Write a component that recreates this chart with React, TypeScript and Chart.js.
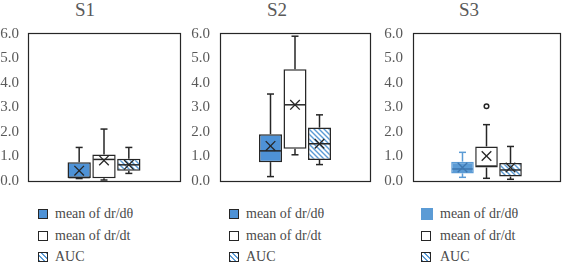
import React, { useEffect, useRef } from 'react';
import { Chart, registerables } from 'chart.js';

Chart.register(...registerables);

const PANEL_TITLES = ['S1', 'S2', 'S3'];
const SERIES_NAMES = ['mean of dr/dθ', 'mean of dr/dt', 'AUC'];
const Y_TICKS = [0, 1, 2, 3, 4, 5, 6];

// five-number summaries per series: [min, q1, median, q3, max]
const S1_DTHETA = [0.1, 0.12, 0.14, 0.77, 1.37];
const S1_DT = [0.04, 0.11, 0.88, 1.08, 2.12];
const S1_AUC = [0.31, 0.42, 0.66, 0.91, 1.37];
const S1_MEANS = [0.42, 0.84, 0.66];
const S1_OUTLIERS: number[][] = [[], [], []];

const S2_DTHETA = [0.18, 0.77, 1.23, 1.91, 3.55];
const S2_DT = [1.07, 1.32, 3.11, 4.56, 5.91];
const S2_AUC = [0.67, 0.86, 1.52, 2.18, 2.7];
const S2_MEANS = [1.43, 3.11, 1.52];
const S2_OUTLIERS: number[][] = [[], [], []];

const S3_DTHETA = [0.15, 0.31, 0.49, 0.79, 1.17];
const S3_DT = [0.11, 0.55, 0.61, 1.41, 2.3];
const S3_AUC = [0.07, 0.18, 0.45, 0.73, 1.41];
const S3_MEANS = [0.55, 1.02, 0.55];
const S3_OUTLIERS: number[][] = [[], [3.05], []];

const PANEL_BOXES = [
  [S1_DTHETA, S1_DT, S1_AUC],
  [S2_DTHETA, S2_DT, S2_AUC],
  [S3_DTHETA, S3_DT, S3_AUC],
];
const PANEL_MEANS = [S1_MEANS, S2_MEANS, S3_MEANS];
const PANEL_OUTLIERS = [S1_OUTLIERS, S2_OUTLIERS, S3_OUTLIERS];

const DARK = '#262626';
const BLUE = '#4e92d6';
const LIGHT_BLUE = '#5b9bd5';
const HATCH_BLUE = '#5b9bd5';
const TEXT = '#595959';
const FONT = "'Liberation Serif', 'Times New Roman', serif";

const CANVAS_H = 200;

const LAYOUT = [
  { left: 0, width: 190, axisW: 28, padRight: 10, tickPad: 9, titleX: 85, markerX: 38, textX: 55 },
  { left: 190, width: 190, axisW: 30, padRight: 10, tickPad: 10, titleX: 277, markerX: 229, textX: 246 },
  { left: 380, width: 187, axisW: 33, padRight: 7, tickPad: 10, titleX: 469, markerX: 421, textX: 440 },
];

function makeHatch(): CanvasPattern | string {
  const s = 5;
  const c = document.createElement('canvas');
  c.width = s;
  c.height = s;
  const g = c.getContext('2d');
  if (!g) return '#fff';
  g.fillStyle = '#fff';
  g.fillRect(0, 0, s, s);
  g.strokeStyle = HATCH_BLUE;
  g.lineWidth = 1.4;
  g.beginPath();
  g.moveTo(0, 0);
  g.lineTo(s, s);
  g.moveTo(-1, s - 1);
  g.lineTo(1, s + 1);
  g.moveTo(s - 1, -1);
  g.lineTo(s + 1, 1);
  g.stroke();
  return g.createPattern(c, 'repeat') || '#fff';
}

function Panel({ idx }: { idx: number }) {
  const ref = useRef<HTMLCanvasElement | null>(null);
  const L = LAYOUT[idx];

  useEffect(() => {
    const canvas = ref.current;
    if (!canvas) return;
    const boxes = PANEL_BOXES[idx];
    const means = PANEL_MEANS[idx];
    const outliers = PANEL_OUTLIERS[idx];
    const light = idx === 2;
    const hatch = makeHatch();
    const fills = [light ? LIGHT_BLUE : BLUE, '#ffffff', hatch];
    const borders = [light ? LIGHT_BLUE : DARK, DARK, DARK];
    const whiskerColors = [light ? LIGHT_BLUE : DARK, DARK, DARK];
    const innerColors = [light ? '#3f77b0' : DARK, DARK, DARK];
    // bottom padding: keep the plot bottom at y = 181 (label half-height + tick padding)
    const padBottom = CANVAS_H - 181;

    const boxPlugin = {
      id: 'boxWhisker' + idx,
      afterDatasetsDraw(chart: any) {
        const ctx: CanvasRenderingContext2D = chart.ctx;
        const ys = chart.scales.y;
        const py = (v: number) => ys.getPixelForValue(v);
        const line = (x1: number, y1: number, x2: number, y2: number) => {
          ctx.beginPath();
          ctx.moveTo(x1, y1);
          ctx.lineTo(x2, y2);
          ctx.stroke();
        };
        boxes.forEach((b, i) => {
          const bar = chart.getDatasetMeta(i).data[0];
          const x = bar.x;
          const w = bar.width;
          ctx.save();
          ctx.lineWidth = 1.5;
          ctx.strokeStyle = whiskerColors[i];
          const cap = 3.5;
          line(x, py(b[3]), x, py(b[4]));
          line(x - cap, py(b[4]), x + cap, py(b[4]));
          line(x, py(b[1]), x, py(b[0]));
          line(x - cap, py(b[0]), x + cap, py(b[0]));
          ctx.strokeStyle = innerColors[i];
          line(x - w / 2 + 1, py(b[2]), x + w / 2 - 1, py(b[2]));
          const m = py(means[i]);
          const r = 4.8;
          ctx.lineWidth = 1.3;
          line(x - r, m - r, x + r, m + r);
          line(x - r, m + r, x + r, m - r);
          ctx.lineWidth = 1.5;
          outliers[i].forEach((o) => {
            ctx.beginPath();
            ctx.arc(x, py(o), 2.3, 0, Math.PI * 2);
            ctx.fillStyle = '#fff';
            ctx.fill();
            ctx.strokeStyle = DARK;
            ctx.stroke();
          });
          ctx.restore();
        });
        const a = chart.chartArea;
        ctx.save();
        ctx.strokeStyle = DARK;
        ctx.lineWidth = 1.2;
        ctx.strokeRect(
          Math.round(a.left) + 0.5,
          Math.round(a.top) - 0.5,
          Math.round(a.right - a.left),
          Math.round(a.bottom - a.top) + 1
        );
        ctx.restore();
      },
    };

    const chart = new Chart(canvas, {
      type: 'bar',
      data: {
        labels: [PANEL_TITLES[idx]],
        datasets: boxes.map((b, i) => ({
          label: SERIES_NAMES[i],
          data: [[b[1], b[3]]] as any,
          backgroundColor: fills[i] as any,
          borderColor: borders[i],
          borderWidth: 1.5,
          borderSkipped: false,
          categoryPercentage: 0.49,
          barPercentage: 0.94,
        })),
      },
      options: {
        responsive: false,
        animation: false,
        layout: { padding: { left: 0, right: L.padRight, top: 34, bottom: padBottom } },
        plugins: {
          legend: { display: false },
          title: { display: false },
          tooltip: { enabled: false },
        },
        scales: {
          x: { display: false },
          y: {
            min: 0,
            max: 6,
            afterBuildTicks: (s: any) => {
              s.ticks = Y_TICKS.map((v) => ({ value: v }));
            },
            afterFit: (s: any) => {
              s.width = L.axisW;
            },
            grid: { display: false, drawTicks: false },
            border: { display: false },
            ticks: {
              padding: L.tickPad,
              color: TEXT,
              font: { family: FONT, size: 15 },
              callback: (v: any) => Number(v).toFixed(1),
            },
          },
        },
      },
      plugins: [boxPlugin],
    });
    return () => chart.destroy();
  }, [idx]);

  const light = idx === 2;
  const rowCenters = [214, 236, 257];
  const markerStyles: React.CSSProperties[] = [
    light
      ? { width: 12, height: 12, background: LIGHT_BLUE }
      : { width: 10, height: 10, background: BLUE, border: `1px solid ${DARK}` },
    { width: 10, height: 10, background: '#fff', border: `1px solid ${DARK}` },
    {
      width: 10,
      height: 10,
      border: `1px solid ${DARK}`,
      background: `repeating-linear-gradient(45deg, ${HATCH_BLUE} 0px, ${HATCH_BLUE} 1.3px, #fff 1.3px, #fff 3.4px)`,
    },
  ];

  return (
    <>
      <div
        style={{
          position: 'absolute',
          left: L.titleX - 30,
          top: -1,
          width: 60,
          textAlign: 'center',
          fontFamily: FONT,
          fontSize: 19,
          lineHeight: '22px',
          color: TEXT,
        }}
      >
        {PANEL_TITLES[idx]}
      </div>
      <canvas
        ref={ref}
        width={L.width}
        height={CANVAS_H}
        style={{ position: 'absolute', left: L.left, top: 0, width: L.width, height: CANVAS_H }}
      />
      {SERIES_NAMES.map((name, i) => {
        const ms = markerStyles[i];
        const h = (ms.height as number) || 10;
        return (
          <React.Fragment key={name}>
            <div
              style={{
                position: 'absolute',
                boxSizing: 'border-box',
                left: L.markerX,
                top: rowCenters[i] - h / 2,
                ...ms,
              }}
            />
            <div
              style={{
                position: 'absolute',
                left: L.textX,
                top: rowCenters[i] - 9,
                lineHeight: '18px',
                fontFamily: FONT,
                fontSize: 14,
                color: '#4a4a4a',
                whiteSpace: 'nowrap',
              }}
            >
              {name}
            </div>
          </React.Fragment>
        );
      })}
    </>
  );
}

export default function App() {
  return (
    <div
      style={{
        position: 'absolute',
        left: 0,
        top: 0,
        width: 567,
        height: 266,
        overflow: 'hidden',
        background: '#fff',
      }}
    >
      {PANEL_TITLES.map((t, i) => (
        <Panel key={t} idx={i} />
      ))}
    </div>
  );
}
